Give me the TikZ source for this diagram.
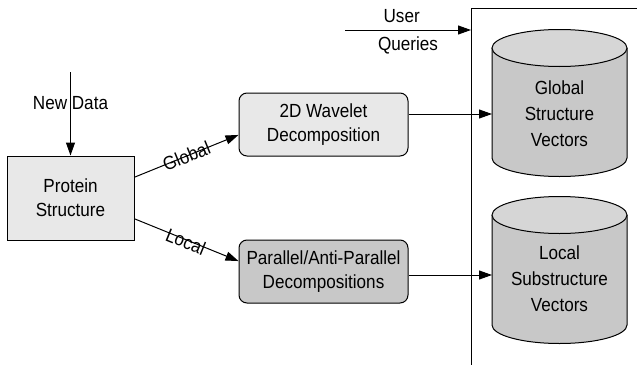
\documentclass[tikz,border=0pt]{standalone}
\usepackage{fontspec}
\setmainfont{Liberation Sans}[FakeStretch=0.9]
\usetikzlibrary{arrows.meta}
\definecolor{lightbox}{HTML}{E8E8E8}
\definecolor{darkbox}{HTML}{C8C8C8}
\definecolor{dbtop}{HTML}{D6D6D6}
% database drawn as a cylinder: centre x, top end y, bottom end y
\newcommand{\database}[3]{%
  \draw[fill=darkbox] (#1-67.5,#2) -- (#1-67.5,#3)
    arc[start angle=180, end angle=0, x radius=67.5, y radius=18.5] -- (#1+67.5,#2);
  \draw[fill=dbtop] (#1,#2) ellipse[x radius=67.5, y radius=18.5];}
\begin{document}
\begin{tikzpicture}[x=0.5pt,y=-0.5pt,
>={Triangle[length=6.5pt,width=4.5pt]},
line width=0.5pt,
every node/.style={font=\fontsize{9.5}{12}\selectfont},
% common options for the plain box:
box/.style = {draw, fill=lightbox, align=center,
            minimum width=63.5pt, minimum height=42pt, inner sep=0},
% common options for the rounded boxes:
stage/.style = {draw, rounded corners=4pt, align=center,
            minimum width=84.5pt, minimum height=31.5pt, inner sep=0},
% common options for the database texts:
dbtext/.style = {align=center, font=\fontsize{9.5}{13}\selectfont}]
\useasboundingbox (0,0) rectangle (637,364);
\node[box] (protein) at (70.5,198) {Protein\\Structure};
\node[stage, fill=lightbox] (wavelet) at (323.5,124.5) {2D Wavelet\\Decomposition};
\node[stage, fill=darkbox] (parallel) at (323.5,271.5) {Parallel/Anti-Parallel\\Decompositions};
\database{559.5}{48}{158}
\database{559.5}{215}{325}
\node[dbtext] (globaltext) at (559.5,114) {Global\\Structure\\Vectors};
\node[dbtext] (localtext) at (559.5,279) {Local\\Substructure\\Vectors};
\coordinate (globalvec) at (492,103);
\coordinate (localvec) at (492,270);
\coordinate (newdata) at (70.5,72);
\coordinate (query) at (345,30);
\coordinate (store) at (471,8);
% frame of the store
\draw (645,8) -- (store) -- (471,372);
\draw[->] (newdata) -- node[pos=0.37] {New Data} (protein.north);
\draw[->] (query) -- node[above, pos=0.45] {User} node[below] {Queries} (query -| store);
\draw[->] (protein.18) -- node[sloped] {Global} (wavelet.187);
\draw[->] (protein.-18) -- node[sloped, yshift=-1pt] {Local} (parallel.173);
\draw[->] ([yshift=5.25pt]wavelet.east) -- ([yshift=5.25pt]wavelet.east -| globalvec);
\draw[->] ([yshift=-1.75pt]parallel.east) -- ([yshift=-1.75pt]parallel.east -| localvec);
\end{tikzpicture}
\end{document}
